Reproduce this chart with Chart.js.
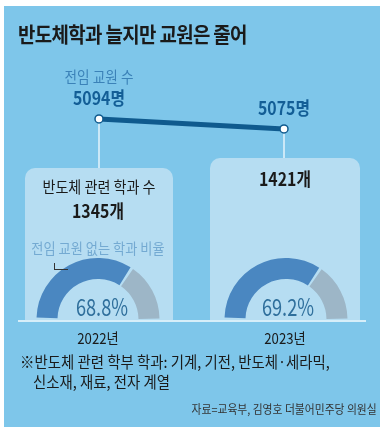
<!DOCTYPE html>
<html><head><meta charset="utf-8">
<script src="https://cdn.jsdelivr.net/npm/chart.js@4"></script>
<style>
html,body{margin:0;padding:0;background:#fff;width:383px;height:433px;overflow:hidden;font-family:"Noto Sans CJK KR","Noto Sans",sans-serif;}
#bg{position:absolute;left:4px;top:6px;width:376px;height:421px;background:#7ec6ea;}
.box{position:absolute;background:#b6ddf2;border-radius:10px 10px 0 0;}
.t{position:absolute;white-space:nowrap;line-height:1;}
canvas{position:absolute;}
</style></head>
<body>
<div id="bg"></div>
<div class="box" style="left:25px;top:168px;width:148px;height:153px;"></div>
<div class="box" style="left:210px;top:158px;width:150px;height:163px;"></div>
<div style="position:absolute;left:18px;top:320px;width:348px;height:2px;background:#d6eef9;"></div>
<canvas id="d0" width="126" height="63" style="left:35px;top:258px;width:126px;height:63px;"></canvas>
<canvas id="d1" width="126" height="63" style="left:223px;top:258px;width:126px;height:63px;"></canvas>
<canvas id="line" width="383" height="433" style="left:0;top:0;width:383px;height:433px;"></canvas>
<div id="texts"></div>
<script>
const years = ['2022년', '2023년'];
const teachers = [5094, 5075];
const depts = [1345, 1421];
const noTeacherPct = [68.8, 69.2];

const BOX = '#b6ddf2';
const boxTops = [168, 158];

const texts = document.getElementById('texts');
function addText(str, opts) {
  const d = document.createElement('div');
  d.className = 't';
  d.textContent = str;
  const fs = opts.fs;
  const sx = opts.sx || 0.88;
  d.style.fontSize = fs + 'px';
  d.style.top = (opts.cy - fs / 2) + 'px';
  if (opts.align === 'right') {
    d.style.right = opts.right + 'px';
    d.style.transformOrigin = '100% 50%';
    d.style.transform = 'scaleX(' + sx + ')';
  } else if (opts.align === 'left') {
    d.style.left = opts.x + 'px';
    d.style.transformOrigin = '0 50%';
    d.style.transform = 'scaleX(' + sx + ')';
  } else {
    d.style.left = opts.x + 'px';
    d.style.transform = 'translateX(-50%) scaleX(' + sx + ')';
  }
  d.style.color = opts.color || '#1a1a1a';
  if (opts.bold) d.style.fontWeight = 'bold';
  if (opts.ls) d.style.letterSpacing = opts.ls + 'px';
  texts.appendChild(d);
}

addText('반도체학과 늘지만 교원은 줄어', {x: 18, cy: 33, fs: 21, bold: true, align: 'left', sx: 0.9, ls: -0.7});
addText('전임 교원 수', {x: 99, cy: 77, fs: 15.5, color: '#3b82b8'});
addText('반도체 관련 학과 수', {x: 99, cy: 186, fs: 16});
addText(depts[0] + '개', {x: 98, cy: 210, fs: 18, bold: true});
addText(depts[1] + '개', {x: 285, cy: 178, fs: 18, bold: true});
addText('전임 교원 없는 학과 비율', {x: 98, cy: 247, fs: 15, color: '#74aad2'});
const centers = [102, 288];
noTeacherPct.forEach((v, i) => addText(v.toFixed(1) + '%', {x: centers[i], cy: 306, fs: 24, sx: 0.76, color: '#2f6f9c'}));
const yearX = [98, 285];
years.forEach((y, i) => addText(y, {x: yearX[i], cy: 337, fs: 15}));
addText('※반도체 관련 학부 학과: 기계, 기전, 반도체·세라믹,', {x: 20, cy: 362, fs: 15.5, align: 'left', sx: 0.93});
addText('신소재, 재료, 전자 계열', {x: 33, cy: 382, fs: 15.5, align: 'left', sx: 0.93});
addText('자료=교육부, 김영호 더불어민주당 의원실', {right: 6, cy: 409, fs: 12, align: 'right', sx: 0.9, color: '#333'});

// leader line
const ld = document.createElement('div');
ld.style.cssText = 'position:absolute;left:54px;top:263px;width:13px;height:6px;border-left:1px solid #333;border-bottom:1px solid #333;';
texts.appendChild(ld);

// line chart
const dropLines = {
  id: 'dropLines',
  beforeDatasetsDraw(chart) {
    const ctx = chart.ctx;
    const meta = chart.getDatasetMeta(0);
    ctx.save();
    ctx.strokeStyle = '#ffffff';
    ctx.lineWidth = 1.2;
    meta.data.forEach((p, i) => {
      ctx.beginPath();
      ctx.moveTo(p.x, p.y);
      ctx.lineTo(p.x, boxTops[i]);
      ctx.stroke();
    });
    ctx.restore();
  },
  afterDatasetsDraw(chart) {
    const ctx = chart.ctx;
    const meta = chart.getDatasetMeta(0);
    ctx.save();
    ctx.fillStyle = '#135e96';
    ctx.font = 'bold 18px "Noto Sans CJK KR"';
    ctx.textAlign = 'center';
    ctx.textBaseline = 'middle';
    meta.data.forEach((p, i) => {
      ctx.save();
      ctx.translate(p.x, p.y - 21);
      ctx.scale(0.88, 1);
      ctx.fillText(teachers[i] + '명', 0, 0);
      ctx.restore();
    });
    ctx.restore();
  }
};

new Chart(document.getElementById('line'), {
  type: 'line',
  data: {
    labels: years,
    datasets: [{
      data: teachers,
      borderColor: '#0f5a8e',
      borderWidth: 5,
      pointRadius: 4,
      pointBackgroundColor: '#ffffff',
      pointBorderColor: '#0f5a8e',
      pointBorderWidth: 1.5,
      tension: 0
    }]
  },
  options: {
    responsive: false,
    animation: false,
    events: [],
    layout: {padding: {left: 99, right: 99, top: 100, bottom: 293}},
    plugins: {legend: {display: false}, tooltip: {enabled: false}},
    scales: {
      x: {display: false, offset: false},
      y: {display: false, min: 5054, max: 5130}
    }
  },
  plugins: [dropLines]
});

noTeacherPct.forEach((v, i) => {
  new Chart(document.getElementById('d' + i), {
    type: 'doughnut',
    data: {
      labels: ['없음', '있음'],
      datasets: [{
        data: [v, 100 - v],
        backgroundColor: ['#4a87c1', '#9db6c7'],
        borderWidth: 0,
        spacing: 3
      }]
    },
    options: {
      responsive: false,
      animation: false,
      events: [],
      rotation: -90,
      circumference: 180,
      cutout: '65%',
      layout: {padding: 0},
      plugins: {legend: {display: false}, tooltip: {enabled: false}}
    }
  });
});
</script>
</body></html>
